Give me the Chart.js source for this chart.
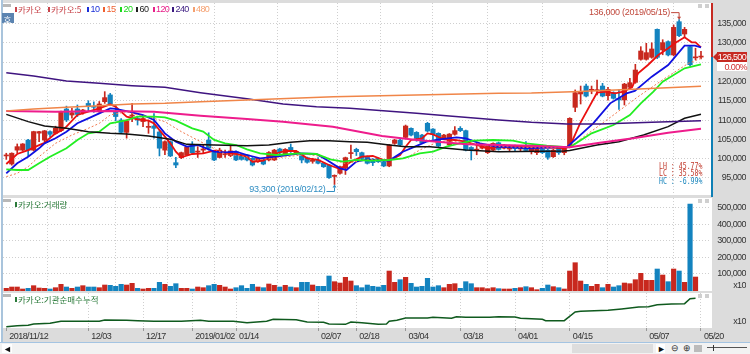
<!DOCTYPE html>
<html>
<head>
<meta charset="utf-8">
<script src="https://cdn.jsdelivr.net/npm/chart.js@4"></script>
<style>
html, body { margin: 0; padding: 0; }
body { width: 750px; height: 354px; position: relative; overflow: hidden; background: #dcdcdc; font-family: "Liberation Sans", sans-serif; }
canvas { position: absolute; }
.box { position: absolute; }
.plot { position: absolute; left: 3px; width: 709px; background: #fff; }
.lbl { position: absolute; white-space: nowrap; font-size: 9px; line-height: 10px; letter-spacing: -0.6px; }
.kr { font-family: "Noto Sans CJK KR", sans-serif; font-size: 8.5px; letter-spacing: 0; }
.mark { position: absolute; width: 2px; height: 5px; }
.stat { position: absolute; left: 659px; font-family: "DejaVu Sans Mono", monospace; font-size: 9.5px; line-height: 8px; white-space: pre; transform: scaleX(.69); transform-origin: left; }
</style>
</head>
<body>
<div class="box" style="left:0;top:0;width:1px;height:342px;background:#fff"></div>
<div class="box" style="left:1px;top:0;width:2px;height:342px;background:#a9c4dc"></div>
<div class="plot" style="top:3px;height:192px"></div>
<div class="plot" style="top:198px;height:93px"></div>
<div class="plot" style="top:293px;height:35px"></div>
<div class="box" style="left:0;top:342px;width:750px;height:1px;background:#a4c4e2"></div>
<div class="box" style="left:0;top:343px;width:750px;height:11px;background:#f2f2f2"></div>

<canvas id="priceChart" width="743" height="192" style="left:3px;top:3px"></canvas>
<canvas id="volumeChart" width="743" height="93" style="left:3px;top:198px"></canvas>
<canvas id="instChart" width="743" height="49" style="left:3px;top:293px"></canvas>

<div id="overlay"></div>
<div class="box" style="left:711px;top:3px;width:2px;height:54px;background:#c62a22"></div>
<div class="box" style="left:711px;top:57px;width:2px;height:140px;background:#0e7fb5"></div>
<div class="box" style="left:713px;top:53px;width:0;height:0;border-top:4px solid transparent;border-bottom:4px solid transparent;border-right:4px solid #c62a22"></div>
<div class="lbl" style="left:717px;top:52px;width:30px;height:10px;background:#c62a22;color:#fff;text-align:center">126,500</div>
<div class="lbl" style="left:717px;top:62px;width:30px;height:9px;background:#fff;color:#d03030;text-align:right">0.00%</div>
<div class="stat" style="top:162px;color:#c0392b">LH : 45.77%</div>
<div class="stat" style="top:169px;color:#c0392b">LC : 35.58%</div>
<div class="stat" style="top:177px;color:#1a86bd">HC : -6.99%</div>

<script>
// Fonts
const axisFont = "'Liberation Sans', sans-serif";

// Candles (index = trading day)
const opens = [100700,98600,102200,102200,104800,102200,106600,104800,107000,106550,107250,112850,111300,112850,111900,114300,113500,112150,114750,116500,
112150,110000,106800,111000,110400,109600,108100,108450,106900,102200,104400,98950,100250,100950,103550,101700,102200,104800,101800,100300,
101000,100800,101800,101100,100950,100080,99200,99650,99650,99650,102500,101100,102900,101350,100750,100250,99300,99650,98800,98350,
95400,96200,97500,101300,102400,101540,100500,99800,100080,99200,98100,103950,104800,105500,107850,106800,106100,109150,107650,106550,
105250,103550,106300,107850,107250,102900,102200,102700,101550,102200,104100,102700,102500,103300,102500,103100,101800,101550,102400,102200,
100500,102700,101550,103100,113290,116750,118800,117700,117600,118800,116300,117090,115600,115200,118470,119760,125720,125720,126240,133490,
128140,130300,126850,135470,132280,129000,126100,126300];
const closes = [100800,101400,103100,103800,102200,107000,107000,107200,106300,107850,112150,110000,111900,111450,112600,113450,113300,114150,115800,114150,
110900,106800,109800,111300,110000,110400,108300,107850,102700,104400,100700,98350,101550,103000,101550,101900,102500,102700,99650,102200,
101150,102000,99650,99800,99650,98350,100080,98600,101600,102200,101600,102400,101800,101800,99650,99050,99400,98800,97900,95050,
95600,97900,100250,101400,101800,100050,98800,98950,99200,98100,103550,104800,103550,108450,106100,105250,104100,107150,106300,103250,
106100,106350,107250,107250,102200,102200,102300,103550,103250,103950,102400,103500,103350,102600,103000,102100,102670,102670,101550,100340,
102200,101550,102700,110440,117090,117300,116200,117800,117800,116200,117950,115620,115200,119300,119670,122950,127880,127450,128400,126240,
130040,126850,134000,131850,133490,124340,126250,126500];
const highs = [101400,101500,103800,103900,105000,107100,107100,107300,107200,108400,112300,113600,113000,113900,112800,115000,114700,114800,117350,116900,
113900,110400,110000,114300,110900,110900,110000,111700,107400,104600,104600,100350,101700,103200,104400,103100,103500,106700,102000,102700,
102200,103500,102000,101300,101100,100300,100300,99900,101800,102400,102700,102600,103800,102000,100900,100400,100100,100300,99000,98500,
95800,98100,100400,103500,102700,101700,100700,100000,100200,99400,103700,105000,105000,108700,108000,107000,106300,109400,107800,106700,
106300,106500,108300,108300,107400,103100,103950,103700,103400,104100,104300,103700,103500,103500,103100,104400,102800,102800,102600,102400,
102400,103000,103000,110600,117800,118800,119330,118800,120370,119500,118500,117300,117800,119500,120800,124420,129000,129860,130000,133600,
130800,130500,134600,136000,134000,129100,128600,127800];
const lows = [99800,98300,101400,102000,100500,102000,104400,104400,105700,106300,107000,109600,110500,110900,111500,112300,112000,112000,114300,113900,
109800,106500,105300,109600,108700,108300,106550,105300,100700,101000,100500,97650,100000,100800,101200,100300,101400,102200,99500,100200,
100300,100500,99500,99600,99400,98100,99000,98400,99400,99500,100800,100900,101600,101100,98900,98800,98800,98600,97700,94900,
93300,96000,95900,100050,100800,99600,98600,98200,99000,97900,97900,103700,103300,105300,105900,104500,103900,106900,105000,103000,
105000,103300,106100,107000,102000,99650,101000,102500,101300,102000,102200,102500,101800,101900,102000,101900,101200,101000,101300,99830,
100300,101100,101000,102900,112165,114150,116000,116800,116480,116000,115150,115400,112770,113900,118200,119500,125500,125500,126000,125900,
126900,126600,126600,131600,131400,124000,125600,125800];

// Volume, last day has no bar
const volumes = [11100,19200,19200,7100,11100,27300,13100,11100,7100,15100,35300,19200,11100,19200,27300,19200,19200,15100,31300,29300,
23200,35300,31300,41400,11100,7100,11100,11100,47500,35300,23200,39400,11100,11100,7100,19200,15100,27300,35300,29300,
19200,7100,15100,27300,11100,35300,19200,15100,37400,29300,19200,29300,19200,15100,47500,47500,31300,23200,23200,85900,
51500,43400,77800,55500,27300,15100,31300,23200,19200,29300,116100,47500,63600,77800,41400,19200,23200,71700,19200,27300,
15100,35300,39400,11100,51500,39400,15100,15100,9100,15100,9100,7100,7100,11100,15100,21200,15100,3000,11100,31300,
21200,15100,7100,116100,166600,55500,35300,23200,35300,15100,35300,19200,27300,43400,39400,63600,102000,59600,59600,128300,
91900,51500,128300,116100,47500,522200,79800,null];

// Moving averages, read as vertices off the picture
const ma5Idx = [0,2,4,6,7,9,10,11,13,15,17,19,20,22,24,26,27,28,29,30,31,32,34,36,38,40,42,44,45,47,49,51,53,55,57,59,61,63,65,67,69,70,72,73,74,76,77,78,80,82,84,86,88,90,96,102,103,104.9,108,109.5,111.3,112.8,114.4,115.5,117.3,119.2,121,122.2,124,125.3,126,127];
const ma5 = [98600,101200,102200,103500,104100,106550,107250,108280,111300,112165,113030,114070,113460,110870,110180,109830,109140,107420,105690,103960,101800,100340,101200,101380,102070,101550,101200,100510,99200,99470,101200,101980,101980,100080,99650,98350,97300,99200,100500,100680,99650,99470,100940,103100,104830,105260,106550,106300,105000,104830,104400,103530,102670,103100,103000,102700,103100,109150,117080,117340,116900,117340,118470,122100,124250,126840,128570,129860,131420,130120,130120,128830];

const ma10Idx = [0,2,4,6,7,9,11,13,15,17,19,20,21.5,23,25,27,29,31,33,35,37,38,40,42,44,46.4,49.4,53.7,56.7,58.6,61,62.2,64,66,67.7,70,72.5,74.7,76.8,79.2,82.3,84,86.6,89.6,96,102.6,107.3,110.4,113.4,114.9,118,121,124,125.9,127];
const ma10 = [96200,98780,100510,102670,103960,105260,106990,109150,110440,111730,113030,112860,112430,112000,111300,110000,106550,104400,103100,103530,102410,101800,101630,101800,100940,100080,100510,101370,101200,99650,97490,97060,99210,99820,99650,99500,101800,103100,104400,105000,105520,105260,103960,103100,102670,103100,109150,114320,116900,117520,121230,124250,129260,129260,128830];

const ma15Idx = [0,2,4,6,9,12,15,17,19,22,24,26,29,32,35.5,38.5,40,44,45,50,55,58,62,66,70,73,75.6,79,82,86.6,91,97,103,110.6,115.5,120.4,124.7,127];
const ma15 = [95330,96200,97920,100510,103960,106120,107850,109140,111300,112170,111300,110870,109570,106990,104400,102240,101200,100500,99500,100300,101100,100500,98700,99800,99800,100080,102240,104400,104400,103530,103100,102800,103000,110870,116050,120800,124680,125980];

const ma20Idx = [0,2,4,6,8,11,13,15,17,19,20,22,24,27,29,31,34,36,38,40,42,44,46.4,49.4,53.7,56.7,59.2,61.6,64,66.5,70,72.5,75.6,78,80.5,82.9,85.3,89,92.6,95,98.8,103,107,111,114,116,118.3,120,122,124,127];
const ma20 = [97230,97050,97050,98780,100510,102670,104830,106550,106990,109140,109400,110000,110870,110870,110700,109830,107850,106990,104830,103960,103530,102410,101370,100940,101370,101200,99820,99210,99650,99470,99650,100080,101370,101800,103100,103960,104650,104830,104660,103960,103360,102930,106550,108710,111300,114320,117340,119930,121660,123390,124430];

const ma60Idx = [0,4,7,11,15,19,22,26,30,33,38,44,48,52,55.5,59,62.8,66,70,73,77.5,84,90,102,103,108,112,116.5,121,124,127];
const ma60 = [111470,109580,108450,107850,106990,106550,106380,105860,105000,103700,103530,103360,103530,104220,104650,104650,104400,104220,103530,103100,103100,102240,101800,101980,102100,103530,104400,106120,108280,110440,111470];

const ma120Idx = [0,9,19,27,35.5,44,50.6,59.7,68.7,75,84.2,90,96,103,108.5,114.6,121,127];
const ma120 = [112340,112170,112340,112170,111130,110270,109570,108280,105860,104830,103700,103530,103360,102930,104140,105260,106730,107760];

const ma240Idx = [0,5,11,17,23,29,35.5,44,50.6,56.7,62.8,68.9,75,81,90,96,102.5,108.6,118,127];
const ma240 = [122270,121400,120110,119500,118900,118470,117090,115530,114150,113460,113030,112430,111730,111040,110000,109400,108970,108970,109400,109830];

const ma480Idx = [0,5,11,17,23,29,35.5,44,59.8,90,96,103.5,114.6,127];
const ma480 = [112340,112860,113290,113720,114150,114320,114760,115190,116050,116910,116990,117340,117950,118730];

// Institutional cumulative net buying (arbitrary units, only the shape is readable)
const instIdx = [0,2,4,5,8,10,17,18,22,24,27,32,35.5,37,41.5,44,47.6,48.8,53,55,58,59,62,63,65,68,69.5,70,71.4,73,77,78,81.4,82.3,84,88.4,90,93,94,98,98.6,102,104,105,110,112.5,115.6,117.4,119,121.6,124,125,126];
const instNet = [4,7,8,12,14,20,20,24,23,22,20,20,23,20,20,16,20,26,25,18,17,12,11,18,16,11,12,20,23,30,30,32,29,34,32,32,34,33,29,26,22,22,48,50,53,57,63,64,70,72,73,88,89];

// Axis ticks
const dateIdx = [0,15,25,34,42,57,64,73,83,93,103,117,127];
const dateLabels = ['2018/11/12','12/03','12/17','2019/01/02','01/14','02/07','02/18','03/04','03/18','04/01','04/15','05/07','05/20'];
const priceTicks = [95000,100000,105000,110000,115000,120000,125000,130000,135000];
const volumeTicks = [100000,200000,300000,400000,500000];

// Legend
const priceLegend = [
    ['카카오', 14.5, '#c8444a', true],
    ['카카오:5', 47.5, '#c8444a', true],
    ['10', 87, '#1a2fd8', false],
    ['15', 103, '#f06030', false],
    ['20', 120, '#19d919', false],
    ['60', 136, '#222222', false],
    ['120', 152.5, '#e8208a', false],
    ['240', 172, '#3b1a80', false],
    ['480', 192.5, '#f5a070', false]
];

const redCandle = '#c8281e';
const blueCandle = '#1383bf';
const candleColors = opens.map((o, i) => closes[i] >= o ? redCandle : blueCandle);

function pts(idx, vals) {
    return idx.map((x, i) => ({ x: x, y: vals[i] }));
}

function maLine(idx, vals, color, width, dash) {
    return {
        type: 'line',
        data: pts(idx, vals),
        borderColor: color,
        borderWidth: width,
        borderDash: dash || [],
        pointRadius: 0,
        tension: 0,
        order: 1
    };
}

// tick text is squeezed to look like the narrow terminal font
Chart.register({
    id: 'tightText',
    beforeDraw(chart) {
        chart.ctx.letterSpacing = '-0.55px';
    }
});

// x runs so that day i sits at 6.3 + 5.47 * i on the page
const xMin = -0.6;
const xMax = 128.83;
const dotted = { dash: [1, 2], display: false };
const gridGrey = '#cfcfcf';

function xScale(showLabels) {
    return {
        type: 'linear',
        min: xMin,
        max: xMax,
        offset: false,
        border: dotted,
        grid: {
            color: ctx => ctx.tick && ctx.tick.value === 0 ? 'transparent' : gridGrey,
            drawTicks: showLabels,
            tickLength: 3,
            tickColor: '#999',
            tickBorderDash: []
        },
        ticks: {
            display: showLabels,
            autoSkip: false,
            maxRotation: 0,
            align: 'start',
            labelOffset: 3,
            padding: 0,
            color: '#333',
            font: { family: axisFont, size: 9 },
            callback: v => dateLabels[dateIdx.indexOf(v)]
        },
        afterBuildTicks: s => { s.ticks = dateIdx.map(v => ({ value: v })); },
        afterFit: s => {
            s.paddingLeft = 0;
            s.paddingRight = 0;
            s.height = showLabels ? 14 : 0;
        }
    };
}

function yScale(min, max, tickValues, label, gridTest) {
    return {
        position: 'right',
        min: min,
        max: max,
        border: dotted,
        grid: {
            color: ctx => gridTest(ctx.tick.value) ? gridGrey : 'transparent',
            drawTicks: false
        },
        ticks: {
            color: '#333',
            crossAlign: 'far',
            padding: 0,
            font: { family: axisFont, size: 9 },
            callback: label
        },
        afterBuildTicks: s => { s.ticks = tickValues.map(v => ({ value: v })); },
        afterFit: s => {
            s.width = 35;
            s.paddingTop = 0;
            s.paddingBottom = 0;
        }
    };
}

const baseOptions = {
    responsive: false,
    animation: false,
    layout: { padding: 0 },
    plugins: { legend: { display: false }, tooltip: { enabled: false } }
};

// High and low call-outs, placed through the scales
const priceCallouts = {
    id: 'priceCallouts',
    afterDatasetsDraw(chart) {
        const { ctx, scales } = chart;
        const hi = highs.indexOf(Math.max(...highs));
        const lo = lows.indexOf(Math.min(...lows));
        ctx.save();
        ctx.font = "9px " + axisFont;
        ctx.letterSpacing = '-0.25px';
        ctx.textBaseline = 'middle';
        ctx.lineWidth = 1;

        const hx = scales.x.getPixelForValue(hi);
        const hy = scales.y.getPixelForValue(highs[hi]);
        ctx.strokeStyle = ctx.fillStyle = '#c0483c';
        ctx.textAlign = 'right';
        ctx.fillText('136,000 (2019/05/15)', hx - 9, hy - 7);
        ctx.beginPath();
        ctx.moveTo(hx - 8, hy - 7);
        ctx.lineTo(hx, hy - 7);
        ctx.lineTo(hx, hy - 2);
        ctx.stroke();
        ctx.beginPath();
        ctx.moveTo(hx - 2, hy - 3);
        ctx.lineTo(hx + 2, hy - 3);
        ctx.lineTo(hx, hy);
        ctx.fill();

        const lx = scales.x.getPixelForValue(lo);
        const ly = scales.y.getPixelForValue(lows[lo]);
        ctx.strokeStyle = ctx.fillStyle = '#2f8dc2';
        ctx.fillText('93,300 (2019/02/12)', lx - 9, ly + 5);
        ctx.beginPath();
        ctx.moveTo(lx - 8, ly + 7);
        ctx.lineTo(lx, ly + 7);
        ctx.lineTo(lx, ly + 3);
        ctx.stroke();
        ctx.beginPath();
        ctx.moveTo(lx - 2, ly + 3);
        ctx.lineTo(lx + 2, ly + 3);
        ctx.lineTo(lx, ly);
        ctx.fill();
        ctx.restore();
    }
};

// Price panel
new Chart(document.getElementById('priceChart'), {
    type: 'bar',
    data: {
        datasets: [
            maLine(ma480Idx, ma480, '#f08548', 1.5),
            maLine(ma240Idx, ma240, '#3f1480', 1.5),
            maLine(ma120Idx, ma120, '#ee1c8c', 2),
            maLine(ma60Idx, ma60, '#111111', 1.5),
            maLine(ma20Idx, ma20, '#22ee22', 1.8),
            maLine(ma15Idx, ma15, '#f07a50', 1, [2, 2]),
            maLine(ma10Idx, ma10, '#1010e0', 1.8),
            maLine(ma5Idx, ma5, '#ea1010', 1.8),
            {
                data: opens.map((o, i) => ({ x: i, y: [o, closes[i]] })),
                backgroundColor: candleColors,
                barThickness: 4.5,
                minBarLength: 1,
                grouped: false,
                order: 2
            },
            {
                data: opens.map((o, i) => ({ x: i, y: [lows[i], highs[i]] })),
                backgroundColor: candleColors,
                barThickness: 1,
                grouped: false,
                order: 3
            }
        ]
    },
    options: {
        ...baseOptions,
        scales: {
            x: xScale(false),
            y: yScale(90580, 140310, priceTicks, v => v.toLocaleString('en-US'), () => true)
        }
    },
    plugins: [priceCallouts]
});

// Volume panel
new Chart(document.getElementById('volumeChart'), {
    type: 'bar',
    data: {
        datasets: [{
            data: volumes.map((v, i) => ({ x: i, y: v })),
            backgroundColor: candleColors,
            barThickness: 4.5,
            base: -5000,
            grouped: false
        }]
    },
    options: {
        ...baseOptions,
        scales: {
            x: xScale(false),
            y: yScale(-5000, 559000, [26000].concat(volumeTicks), v => v === 26000 ? 'x10' : v.toLocaleString('en-US'), v => v !== 26000)
        }
    }
});

// Institutional net buying panel
new Chart(document.getElementById('instChart'), {
    type: 'line',
    data: {
        datasets: [{
            data: pts(instIdx, instNet),
            borderColor: '#0f5a1e',
            borderWidth: 1.5,
            pointRadius: 0,
            tension: 0
        }]
    },
    options: {
        ...baseOptions,
        scales: {
            x: xScale(true),
            y: yScale(0, 105, [18], () => 'x10', () => false)
        }
    }
});

// Panel legends and window furniture
const overlay = document.getElementById('overlay');

function addLabel(text, x, y, color, kr) {
    const el = document.createElement('div');
    el.className = kr ? 'lbl kr' : 'lbl';
    el.style.left = x + 'px';
    el.style.top = y + 'px';
    el.style.color = color;
    el.textContent = text;
    overlay.appendChild(el);
}

function addMark(x, y, color) {
    const el = document.createElement('div');
    el.className = 'mark';
    el.style.left = x + 'px';
    el.style.top = y + 'px';
    el.style.background = color;
    overlay.appendChild(el);
}

function addBox(x, y, w, h, color) {
    const el = document.createElement('div');
    el.className = 'box';
    el.style.cssText = `left:${x}px;top:${y}px;width:${w}px;height:${h}px;background:${color}`;
    overlay.appendChild(el);
}

priceLegend.forEach(([text, x, color, kr]) => {
    addMark(x, 6.5, color);
    addLabel(text, x + 3.5, 4, color, kr);
});
addMark(14.5, 201.5, '#2a7a3a');
addLabel('카카오:거래량', 18, 199, '#2a7a3a', true);
addMark(14.5, 296.5, '#2a7a3a');
addLabel('카카오:기관순매수누적', 18, 294, '#2a7a3a', true);

// Grey panel handles, left and right
[4, 199, 294].forEach(y => {
    addBox(3, y, 8, 3, '#b8b8b8');
    addBox(698, y, 4, 4, '#cfcfcf');
    addBox(705, y, 4, 4, '#cfcfcf');
});

// Toolbar square and scroll row
addBox(2, 13, 12, 10, '#5b84b1');
addLabel('호', 3.5, 13.5, '#fff', true);
addBox(2, 344, 10, 9, '#ffffff');
addLabel('◄', 3, 344, '#111', false);
addBox(572, 344, 81, 9, '#dddddd');
addBox(656, 344, 9, 9, '#ffffff');
addLabel('►', 657, 344, '#111', false);
addLabel('⊖', 671, 343, '#333', false);
addLabel('⊕', 683, 343, '#333', false);
addBox(694, 345, 8, 7, '#bbbbbb');
addBox(707, 347, 40, 1, '#555555');
addBox(713, 345, 1, 6, '#333333');
</script>
</body>
</html>
